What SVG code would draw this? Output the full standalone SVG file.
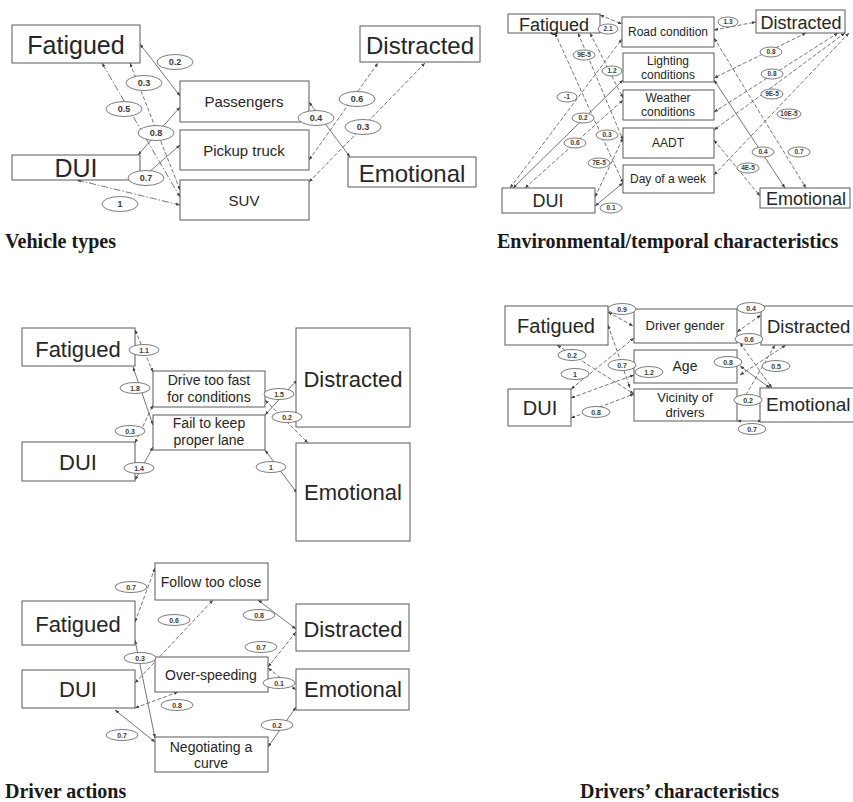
<svg xmlns="http://www.w3.org/2000/svg" width="853" height="802" viewBox="0 0 853 802">
<defs>
<marker id="a" viewBox="0 0 10 10" refX="10" refY="5" markerWidth="4.5" markerHeight="4.5" orient="auto-start-reverse"><path d="M0,1 L10,5 L0,9z" fill="#444"/></marker>
<style>
.box{fill:#fff;stroke:#5a5a5a;stroke-width:1}
.t{font-family:"Liberation Sans",Arial,sans-serif;fill:#262626;text-anchor:middle}
.c{stroke:#666;stroke-width:0.9;fill:none;marker-end:url(#a);marker-start:url(#a)}
.d{stroke-dasharray:4 2}
.dd{stroke-dasharray:7 2 1.5 2}
.e{fill:#fff;stroke:#5a5a5a;stroke-width:0.8}
.lt{font-family:"Liberation Sans",Arial,sans-serif;font-weight:bold;fill:#3a3a3a;text-anchor:middle}
.cap{font-family:"Liberation Serif","Times New Roman",serif;font-weight:bold;font-size:20px;fill:#1a1a1a}
</style>
</defs>
<rect width="853" height="802" fill="#fff"/>

<g id="connectors">
<!-- panel 1 -->
<path class="c" d="M140,44 L180,96"/>
<path class="c d" d="M130,63 L180,190"/>
<path class="c dd" d="M102,63 L180,197"/>
<path class="c" d="M138,155 L180,107"/>
<path class="c" d="M140,180 L180,145"/>
<path class="c dd" d="M77,180 L180,205"/>
<path class="c" d="M309,102 L350,157"/>
<path class="c d" d="M309,160 L378,63"/>
<path class="c d" d="M309,182 L425,63"/>
<!-- panel 2 -->
<path class="c d" d="M600,15 L622,24"/>
<path class="c d" d="M510,188 L622,39"/>
<path class="c" d="M513,188 L623,80"/>
<path class="c d" d="M525,188 L623,100"/>
<path class="c d" d="M555,33 L623,183"/>
<path class="c d" d="M578,33 L623,140"/>
<path class="c d" d="M590,33 L623,98"/>
<path class="c d" d="M595,197 L623,138"/>
<path class="c" d="M595,206 L623,183"/>
<path class="c d" d="M714,30 L756,22"/>
<path class="c d" d="M714,38 L806,188"/>
<path class="c" d="M714,80 L785,188"/>
<path class="c d" d="M806,33 L714,78"/>
<path class="c d" d="M838,33 L714,112"/>
<path class="c d" d="M845,33 L714,130"/>
<path class="c d" d="M849,33 L714,175"/>
<path class="c d" d="M714,140 L760,196"/>
<!-- panel 3 -->
<path class="c d" d="M135,330 L153,372"/>
<path class="c" d="M133,367 L153,425"/>
<path class="c d" d="M135,443 L153,405"/>
<path class="c" d="M135,480 L153,447"/>
<path class="c" d="M265,415 L297,380"/>
<path class="c d" d="M265,400 L308,443"/>
<path class="c" d="M265,450 L297,493"/>
<!-- panel 4 -->
<path class="c d" d="M608,312 L633,326"/>
<path class="c d" d="M608,325 L630,388"/>
<path class="c d" d="M557,345 L634,394"/>
<path class="c d" d="M571,389 L634,338"/>
<path class="c d" d="M571,398 L634,375"/>
<path class="c d" d="M571,418 L634,394"/>
<path class="c d" d="M737,332 L761,315"/>
<path class="c d" d="M740,343 L772,388"/>
<path class="c d" d="M740,375 L786,345"/>
<path class="c" d="M770,388 L740,366"/>
<path class="c d" d="M775,345 L740,405"/>
<path class="c" d="M737,421 L762,421"/>
<!-- panel 5 -->
<path class="c d" d="M135,622 L155,568"/>
<path class="c d" d="M135,683 L213,600"/>
<path class="c" d="M135,640 L155,738"/>
<path class="c d" d="M135,708 L178,692"/>
<path class="c" d="M115,710 L155,742"/>
<path class="c" d="M258,600 L296,629"/>
<path class="c d" d="M296,632 L268,667"/>
<path class="c d" d="M268,668 L296,690"/>
<path class="c" d="M268,747 L296,707"/>
</g>

<!-- Panel 1: Vehicle types -->
<g id="p1-fatigued"><rect class="box" x="12" y="25" width="128" height="38"/><text class="t" x="76" y="54" font-size="25">Fatigued</text></g>
<g id="p1-dui"><rect class="box" x="12" y="155" width="128" height="25"/><text class="t" x="76" y="177" font-size="25">DUI</text></g>
<g id="p1-passengers"><rect class="box" x="180" y="81" width="129" height="41"/><text class="t" x="244" y="107" font-size="15">Passengers</text></g>
<g id="p1-pickup"><rect class="box" x="180" y="130" width="129" height="40"/><text class="t" x="244" y="156" font-size="15">Pickup truck</text></g>
<g id="p1-suv"><rect class="box" x="180" y="180" width="129" height="40"/><text class="t" x="244" y="206" font-size="15">SUV</text></g>
<g id="p1-distracted"><rect class="box" x="360" y="26" width="120" height="36"/><text class="t" x="420" y="54" font-size="24">Distracted</text></g>
<g id="p1-emotional"><rect class="box" x="348" y="157" width="128" height="30"/><text class="t" x="412" y="182" font-size="24">Emotional</text></g>

<!-- Panel 2: Environmental/temporal -->
<g id="p2-fatigued"><rect class="box" x="508" y="14" width="92" height="19"/><text class="t" x="554" y="31" font-size="18">Fatigued</text></g>
<g id="p2-road"><rect class="box" x="622" y="17" width="92" height="30"/><text class="t" x="668" y="36" font-size="12">Road condition</text></g>
<g id="p2-lighting"><rect class="box" x="623" y="53" width="91" height="29"/><text class="t" x="668" y="65" font-size="12">Lighting</text><text class="t" x="668" y="79" font-size="12">conditions</text></g>
<g id="p2-weather"><rect class="box" x="623" y="90" width="91" height="30"/><text class="t" x="668" y="102" font-size="12">Weather</text><text class="t" x="668" y="116" font-size="12">conditions</text></g>
<g id="p2-aadt"><rect class="box" x="623" y="128" width="91" height="30"/><text class="t" x="668" y="147" font-size="12">AADT</text></g>
<g id="p2-day"><rect class="box" x="623" y="165" width="91" height="28"/><text class="t" x="668" y="183" font-size="12">Day of a week</text></g>
<g id="p2-distracted"><rect class="box" x="756" y="10" width="89" height="23"/><text class="t" x="801" y="29" font-size="18">Distracted</text></g>
<g id="p2-dui"><rect class="box" x="502" y="188" width="93" height="25"/><text class="t" x="548" y="207" font-size="18">DUI</text></g>
<g id="p2-emotional"><rect class="box" x="760" y="188" width="90" height="20"/><text class="t" x="806" y="205" font-size="18">Emotional</text></g>

<!-- Panel 3: Driver actions (a) -->
<g id="p3-fatigued"><rect class="box" x="22" y="328" width="113" height="38"/><text class="t" x="78" y="357" font-size="22">Fatigued</text></g>
<g id="p3-drivefast"><rect class="box" x="153" y="371" width="112" height="36"/><text class="t" x="209" y="385" font-size="14">Drive too fast</text><text class="t" x="209" y="402" font-size="14">for conditions</text></g>
<g id="p3-faillane"><rect class="box" x="153" y="415" width="112" height="35"/><text class="t" x="209" y="428" font-size="14">Fail to keep</text><text class="t" x="209" y="445" font-size="14">proper lane</text></g>
<g id="p3-dui"><rect class="box" x="22" y="442" width="113" height="39"/><text class="t" x="78" y="470" font-size="22">DUI</text></g>
<g id="p3-distracted"><rect class="box" x="296" y="328" width="114" height="99"/><text class="t" x="353" y="387" font-size="22">Distracted</text></g>
<g id="p3-emotional"><rect class="box" x="296" y="443" width="114" height="98"/><text class="t" x="353" y="500" font-size="22">Emotional</text></g>

<!-- Panel 4: Drivers' characteristics -->
<g id="p4-fatigued"><rect class="box" x="505" y="306" width="103" height="39"/><text class="t" x="556" y="333" font-size="20">Fatigued</text></g>
<g id="p4-gender"><rect class="box" x="634" y="309" width="103" height="34"/><text class="t" x="685" y="330" font-size="13">Driver gender</text></g>
<g id="p4-age"><rect class="box" x="634" y="350" width="103" height="33"/><text class="t" x="685" y="371" font-size="14">Age</text></g>
<g id="p4-vicinity"><rect class="box" x="634" y="389" width="103" height="32"/><text class="t" x="685" y="402" font-size="13">Vicinity of</text><text class="t" x="685" y="417" font-size="13">drivers</text></g>
<g id="p4-distracted"><rect class="box" x="761" y="306" width="100" height="39"/><text class="t" x="767" y="333" font-size="18.5" style="text-anchor:start">Distracted</text></g>
<g id="p4-dui"><rect class="box" x="508" y="389" width="63" height="37"/><text class="t" x="540" y="415" font-size="20">DUI</text></g>
<g id="p4-emotional"><rect class="box" x="760" y="388" width="100" height="34"/><text class="t" x="766" y="411" font-size="19" style="text-anchor:start">Emotional</text></g>

<!-- Panel 5: Driver actions (b) -->
<g id="p5-follow"><rect class="box" x="155" y="563" width="113" height="37"/><text class="t" x="211" y="587" font-size="14">Follow too close</text></g>
<g id="p5-fatigued"><rect class="box" x="22" y="601" width="113" height="44"/><text class="t" x="78" y="632" font-size="22">Fatigued</text></g>
<g id="p5-overspeed"><rect class="box" x="155" y="657" width="113" height="35"/><text class="t" x="211" y="680" font-size="14">Over-speeding</text></g>
<g id="p5-dui"><rect class="box" x="22" y="670" width="113" height="38"/><text class="t" x="78" y="697" font-size="22">DUI</text></g>
<g id="p5-curve"><rect class="box" x="155" y="737" width="113" height="35"/><text class="t" x="211" y="752" font-size="14">Negotiating a</text><text class="t" x="211" y="768" font-size="14">curve</text></g>
<g id="p5-distracted"><rect class="box" x="296" y="604" width="113" height="47"/><text class="t" x="353" y="637" font-size="22">Distracted</text></g>
<g id="p5-emotional"><rect class="box" x="296" y="669" width="113" height="41"/><text class="t" x="353" y="697" font-size="22">Emotional</text></g>

<g id="edge-labels">
<!-- panel 1 -->
<g font-size="9">
<ellipse class="e" cx="175" cy="62" rx="18" ry="7.5"/><text class="lt" x="175" y="65">0.2</text>
<ellipse class="e" cx="144" cy="83" rx="18" ry="7.5"/><text class="lt" x="144" y="86">0.3</text>
<ellipse class="e" cx="124" cy="109" rx="18" ry="7.5"/><text class="lt" x="124" y="112">0.5</text>
<ellipse class="e" cx="156" cy="133" rx="18" ry="7.5"/><text class="lt" x="156" y="136">0.8</text>
<ellipse class="e" cx="146" cy="178" rx="18" ry="7.5"/><text class="lt" x="146" y="181">0.7</text>
<ellipse class="e" cx="120" cy="204" rx="18" ry="7.5"/><text class="lt" x="120" y="207">1</text>
<ellipse class="e" cx="316" cy="118" rx="18" ry="7.5"/><text class="lt" x="316" y="121">0.4</text>
<ellipse class="e" cx="357" cy="99" rx="18" ry="7.5"/><text class="lt" x="357" y="102">0.6</text>
<ellipse class="e" cx="363" cy="127" rx="18" ry="7.5"/><text class="lt" x="363" y="130">0.3</text>
</g>
<!-- panel 2 -->
<g font-size="6.5">
<ellipse class="e" cx="608" cy="29" rx="10" ry="5"/><text class="lt" x="608" y="31.3">2.1</text>
<ellipse class="e" cx="584" cy="55" rx="11" ry="5"/><text class="lt" x="584" y="57.3">9E-5</text>
<ellipse class="e" cx="612" cy="71" rx="10" ry="5"/><text class="lt" x="612" y="73.3">1.2</text>
<ellipse class="e" cx="567" cy="97" rx="10" ry="5"/><text class="lt" x="567" y="99.3">-1</text>
<ellipse class="e" cx="583" cy="118" rx="11" ry="5"/><text class="lt" x="583" y="120.3">0.2</text>
<ellipse class="e" cx="575" cy="143" rx="11" ry="5"/><text class="lt" x="575" y="145.3">0.6</text>
<ellipse class="e" cx="607" cy="135" rx="11" ry="5"/><text class="lt" x="607" y="137.3">0.3</text>
<ellipse class="e" cx="599" cy="163" rx="11" ry="5"/><text class="lt" x="599" y="165.3">7E-5</text>
<ellipse class="e" cx="611" cy="208" rx="11" ry="5"/><text class="lt" x="611" y="210.3">0.1</text>
<ellipse class="e" cx="728" cy="22" rx="10" ry="5"/><text class="lt" x="728" y="24.3">1.3</text>
<ellipse class="e" cx="771" cy="52" rx="11" ry="5"/><text class="lt" x="771" y="54.3">0.8</text>
<ellipse class="e" cx="772" cy="74" rx="11" ry="5"/><text class="lt" x="772" y="76.3">0.8</text>
<ellipse class="e" cx="772" cy="94" rx="11" ry="5"/><text class="lt" x="772" y="96.3">9E-5</text>
<ellipse class="e" cx="789" cy="114" rx="12" ry="5"/><text class="lt" x="789" y="116.3">10E-5</text>
<ellipse class="e" cx="763" cy="152" rx="11" ry="5"/><text class="lt" x="763" y="154.3">0.4</text>
<ellipse class="e" cx="799" cy="152" rx="11" ry="5"/><text class="lt" x="799" y="154.3">0.7</text>
<ellipse class="e" cx="748" cy="168" rx="11" ry="5"/><text class="lt" x="748" y="170.3">4E-5</text>
</g>
<!-- panel 3 -->
<g font-size="7">
<ellipse class="e" cx="144" cy="350" rx="15" ry="5.5"/><text class="lt" x="144" y="352.5">1.1</text>
<ellipse class="e" cx="135" cy="388" rx="15" ry="5.5"/><text class="lt" x="135" y="390.5">1.8</text>
<ellipse class="e" cx="130" cy="431" rx="15" ry="5.5"/><text class="lt" x="130" y="433.5">0.3</text>
<ellipse class="e" cx="139" cy="468" rx="15" ry="5.5"/><text class="lt" x="139" y="470.5">1.4</text>
<ellipse class="e" cx="279" cy="394" rx="15" ry="5.5"/><text class="lt" x="279" y="396.5">1.5</text>
<ellipse class="e" cx="287" cy="417" rx="15" ry="5.5"/><text class="lt" x="287" y="419.5">0.2</text>
<ellipse class="e" cx="271" cy="467" rx="15" ry="5.5"/><text class="lt" x="271" y="469.5">1</text>
</g>
<!-- panel 4 -->
<g font-size="7">
<ellipse class="e" cx="622" cy="309" rx="14" ry="5.5"/><text class="lt" x="622" y="311.5">0.9</text>
<ellipse class="e" cx="751" cy="308" rx="14" ry="5.5"/><text class="lt" x="751" y="310.5">0.4</text>
<ellipse class="e" cx="749" cy="339" rx="14" ry="5.5"/><text class="lt" x="749" y="341.5">0.6</text>
<ellipse class="e" cx="572" cy="355" rx="14" ry="5.5"/><text class="lt" x="572" y="357.5">0.2</text>
<ellipse class="e" cx="575" cy="374" rx="14" ry="5.5"/><text class="lt" x="575" y="376.5">1</text>
<ellipse class="e" cx="622" cy="365" rx="14" ry="5.5"/><text class="lt" x="622" y="367.5">0.7</text>
<ellipse class="e" cx="649" cy="372" rx="14" ry="5.5"/><text class="lt" x="649" y="374.5">1.2</text>
<ellipse class="e" cx="728" cy="362" rx="14" ry="5.5"/><text class="lt" x="728" y="364.5">0.8</text>
<ellipse class="e" cx="776" cy="366" rx="14" ry="5.5"/><text class="lt" x="776" y="368.5">0.5</text>
<ellipse class="e" cx="748" cy="400" rx="14" ry="5.5"/><text class="lt" x="748" y="402.5">0.2</text>
<ellipse class="e" cx="596" cy="412" rx="14" ry="5.5"/><text class="lt" x="596" y="414.5">0.8</text>
<ellipse class="e" cx="752" cy="429" rx="14" ry="5.5"/><text class="lt" x="752" y="431.5">0.7</text>
</g>
<!-- panel 5 -->
<g font-size="7">
<ellipse class="e" cx="131" cy="587" rx="16" ry="5.5"/><text class="lt" x="131" y="589.5">0.7</text>
<ellipse class="e" cx="174" cy="620" rx="16" ry="5.5"/><text class="lt" x="174" y="622.5">0.6</text>
<ellipse class="e" cx="140" cy="658" rx="16" ry="5.5"/><text class="lt" x="140" y="660.5">0.3</text>
<ellipse class="e" cx="177" cy="705" rx="16" ry="5.5"/><text class="lt" x="177" y="707.5">0.8</text>
<ellipse class="e" cx="122" cy="735" rx="16" ry="5.5"/><text class="lt" x="122" y="737.5">0.7</text>
<ellipse class="e" cx="259" cy="615" rx="16" ry="5.5"/><text class="lt" x="259" y="617.5">0.8</text>
<ellipse class="e" cx="261" cy="647" rx="16" ry="5.5"/><text class="lt" x="261" y="649.5">0.7</text>
<ellipse class="e" cx="279" cy="683" rx="16" ry="5.5"/><text class="lt" x="279" y="685.5">0.1</text>
<ellipse class="e" cx="277" cy="725" rx="16" ry="5.5"/><text class="lt" x="277" y="727.5">0.2</text>
</g>
</g>

<g id="captions">
<text class="cap" x="5" y="248">Vehicle types</text>
<text class="cap" x="497" y="248">Environmental/temporal characteristics</text>
<text class="cap" x="5" y="798">Driver actions</text>
<text class="cap" x="580" y="798">Drivers’ characteristics</text>
</g>
</svg>
